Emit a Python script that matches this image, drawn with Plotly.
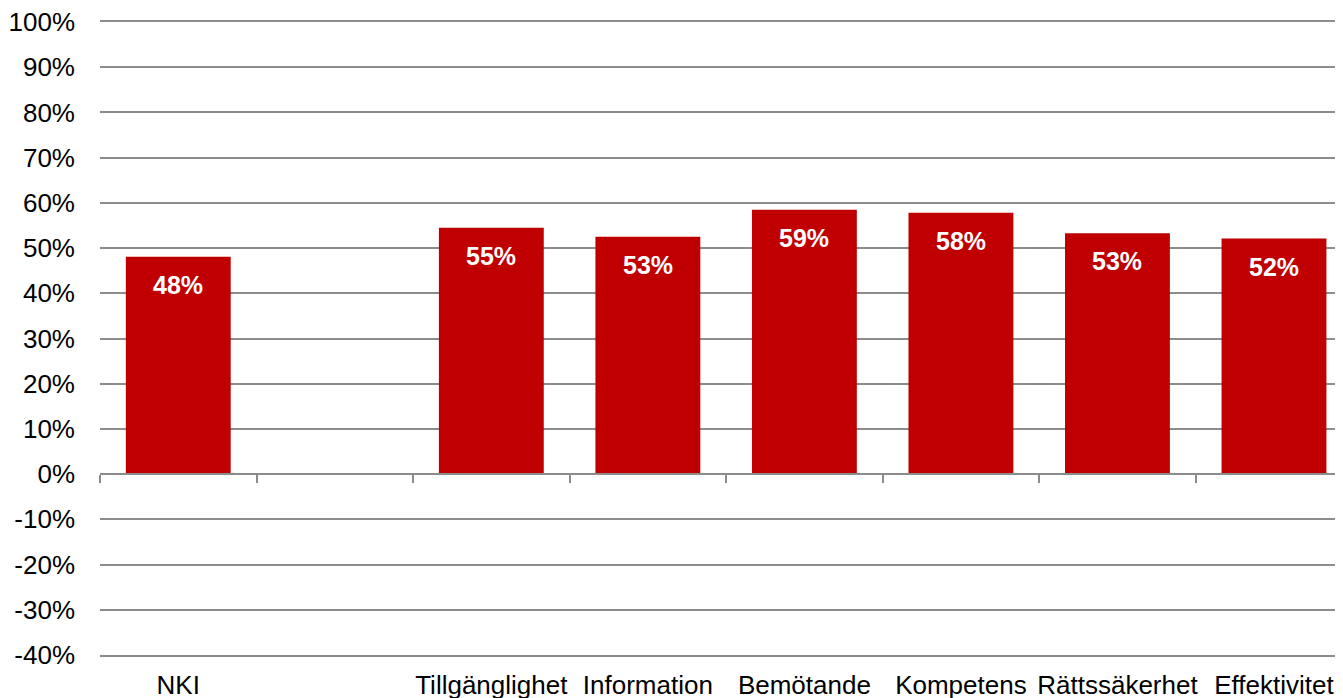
import plotly.graph_objects as go

categories = ["NKI", "", "Tillgänglighet", "Information", "Bemötande", "Kompetens", "Rättssäkerhet", "Effektivitet"]
values = [48.1, None, 54.5, 52.5, 58.5, 57.8, 53.3, 52.1]
value_labels = ["48%", "", "55%", "53%", "59%", "58%", "53%", "52%"]
y_ticks = list(range(-40, 101, 10))

positions = list(range(len(categories)))
FONT = "Liberation Sans, Arial, sans-serif"
RED = "#C00000"
GRID = "#8c8c8c"

fig = go.Figure()
fig.add_trace(go.Bar(
    x=positions, y=values, width=0.67,
    marker=dict(color=RED, line=dict(width=0)),
    hoverinfo="skip", showlegend=False,
))
# invisible trace to hold the zero-line axis
fig.add_trace(go.Scatter(x=[positions[0]], y=[0], xaxis="x2", mode="markers",
                         marker=dict(opacity=0), hoverinfo="skip", showlegend=False))

annotations = []
for p, v, t in zip(positions, values, value_labels):
    if v is None:
        continue
    annotations.append(dict(x=p, y=v, xref="x", yref="y", text=t, showarrow=False,
                            yanchor="middle", yshift=-28,
                            font=dict(family=FONT, size=25, color="white", weight="bold")))

span = len(categories)
xr = [-0.5, span - 0.5 - 9.25 / 156.5]
boundaries = [i - 0.5 for i in range(span + 1)]

# page body has an 8px margin: figure is sized to fill the rest of the window
fig.update_layout(
    width=1335, height=690,
    margin=dict(l=92, r=0, t=14, b=43),
    paper_bgcolor="white", plot_bgcolor="white",
    bargap=0.33,
    annotations=annotations,
    xaxis=dict(range=xr, tickmode="array", tickvals=positions, ticktext=categories,
               showgrid=False, zeroline=False, showline=True, mirror=True,
               linecolor=GRID, linewidth=1.5, ticks="",
               tickfont=dict(family=FONT, size=26, color="black"),
               ticklabelstandoff=6, ticklabeloverflow="allow",
               automargin=False, fixedrange=True),
    xaxis2=dict(range=xr, overlaying="x", anchor="free", position=40 / 140,
                tickmode="array", tickvals=boundaries, ticks="outside", ticklen=8,
                tickwidth=1.5, tickcolor=GRID, showticklabels=False,
                showline=True, linecolor=GRID, linewidth=1.5, showgrid=False,
                zeroline=False, automargin=False),
    yaxis=dict(range=[-40, 100], tickmode="array", tickvals=y_ticks,
               ticktext=[f"{v}%" for v in y_ticks],
               showgrid=True, gridcolor=GRID, gridwidth=1.5, zeroline=False,
               showline=False, ticks="", ticklabelstandoff=24,
               ticklabeloverflow="allow",
               tickfont=dict(family=FONT, size=26, color="black"),
               automargin=False, fixedrange=True),
)

fig.write_html("out.html")
